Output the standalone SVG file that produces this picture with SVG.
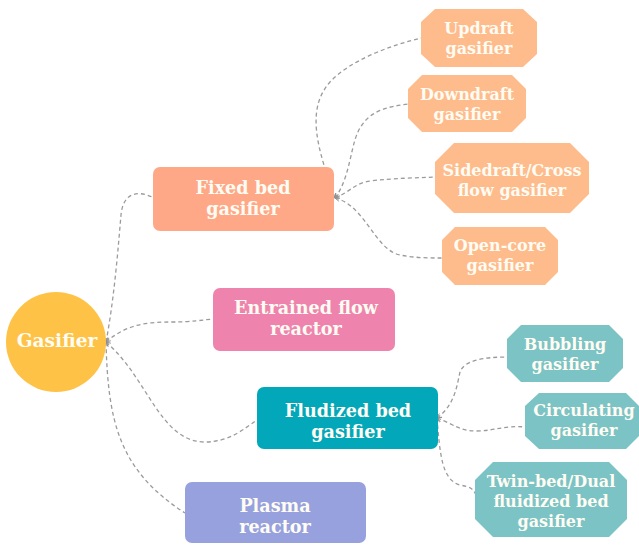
<svg xmlns="http://www.w3.org/2000/svg" width="639" height="545" viewBox="0 0 639 545">
<defs>
<marker id="arr" viewBox="0 0 8 8" refX="1" refY="4" markerWidth="6" markerHeight="6" orient="auto" markerUnits="userSpaceOnUse">
<path d="M7,1 L1,4 L7,7" fill="none" stroke="#8f8f8f" stroke-width="1.2"/>
</marker>
<style>
.c{fill:none;stroke:#9b9b9b;stroke-width:1.3;stroke-dasharray:4 3;marker-start:url(#arr)}
text{font-family:"DejaVu Serif","Liberation Serif",serif;font-weight:bold;fill:#fffcf3;text-anchor:middle}
.m{font-size:17.6px}
.s{font-size:16px}
.g{font-size:18.6px}
</style>
</defs>
<rect width="639" height="545" fill="#ffffff"/>
<g id="connectors">
<path class="c" d="M106,342 C114,300 118,250 121,215 C123,193 137,190 152,197"/>
<path class="c" d="M106,342 C128,323 150,322 172,322 C192,322 202,320 213,319"/>
<path class="c" d="M106,342 C148,378 160,442 205,442 C230,442 245,428 257,420"/>
<path class="c" d="M106,342 C108,420 118,470 185,513"/>
<path class="c" d="M335,198 C318,150 305,110 330,82 C350,60 392,45 421,38"/>
<path class="c" d="M335,198 C352,175 350,140 362,125 C372,110 390,106 409,104"/>
<path class="c" d="M335,198 C350,192 355,183 370,181 C395,178 415,178 435,177"/>
<path class="c" d="M335,198 C365,205 375,250 400,255 C415,258 430,258 442,258"/>
<path class="c" d="M437,418 C455,405 457,385 460,372 C464,360 485,357 508,357"/>
<path class="c" d="M437,418 C455,425 460,431 476,431 C495,431 505,425 525,427"/>
<path class="c" d="M437,418 C440,455 442,480 460,485 C470,487 473,488 476,495"/>
</g>
<g id="gasifier">
<circle cx="56" cy="342" r="50" fill="#fec247"/>
<text class="g" x="57" y="347">Gasifier</text>
</g>
<g id="fixed-bed">
<rect x="153" y="167" width="181" height="64" rx="7" fill="#fea887"/>
<text class="m" x="243" y="194">Fixed bed</text>
<text class="m" x="243" y="215">gasifier</text>
</g>
<g id="entrained">
<rect x="213" y="288" width="182" height="63" rx="7" fill="#ee84ad"/>
<text class="m" x="306" y="314">Entrained flow</text>
<text class="m" x="306" y="335">reactor</text>
</g>
<g id="fluidized">
<rect x="257" y="387" width="181" height="62" rx="7" fill="#02a8b9"/>
<text class="m" x="348" y="417">Fludized bed</text>
<text class="m" x="348" y="438">gasifier</text>
</g>
<g id="plasma">
<rect x="185" y="482" width="181" height="61" rx="7" fill="#96a1de"/>
<text class="m" x="275" y="512">Plasma</text>
<text class="m" x="275" y="533">reactor</text>
</g>
<g id="updraft">
<polygon points="435,9 523,9 537,22 537,54 523,67 435,67 421,54 421,22" fill="#febb8b"/>
<text class="s" x="479" y="34">Updraft</text>
<text class="s" x="479" y="54">gasifier</text>
</g>
<g id="downdraft">
<polygon points="422,75 512,75 526,89 526,118 512,132 422,132 408,118 408,89" fill="#febb8b"/>
<text class="s" x="467" y="100">Downdraft</text>
<text class="s" x="467" y="120">gasifier</text>
</g>
<g id="sidedraft">
<polygon points="454,143 570,143 589,162 589,194 570,213 454,213 435,194 435,162" fill="#febb8b"/>
<text class="s" x="512" y="176">Sidedraft/Cross</text>
<text class="s" x="512" y="196">flow gasifier</text>
</g>
<g id="open-core">
<polygon points="455,227 545,227 558,240 558,272 545,285 455,285 442,272 442,240" fill="#febb8b"/>
<text class="s" x="500" y="251">Open-core</text>
<text class="s" x="500" y="271">gasifier</text>
</g>
<g id="bubbling">
<polygon points="521,325 609,325 623,339 623,368 609,382 521,382 507,368 507,339" fill="#7bc3c4"/>
<text class="s" x="565" y="350">Bubbling</text>
<text class="s" x="565" y="370">gasifier</text>
</g>
<g id="circulating">
<polygon points="539,393 626,393 639,406 639,436 626,449 539,449 525,436 525,406" fill="#7bc3c4"/>
<text class="s" x="584" y="416">Circulating</text>
<text class="s" x="584" y="436">gasifier</text>
</g>
<g id="twin-bed">
<polygon points="493,462 609,462 627,480 627,519 609,537 493,537 475,519 475,480" fill="#7bc3c4"/>
<text class="s" x="551" y="487">Twin-bed/Dual</text>
<text class="s" x="551" y="507">fluidized bed</text>
<text class="s" x="551" y="527">gasifier</text>
</g>
</svg>
